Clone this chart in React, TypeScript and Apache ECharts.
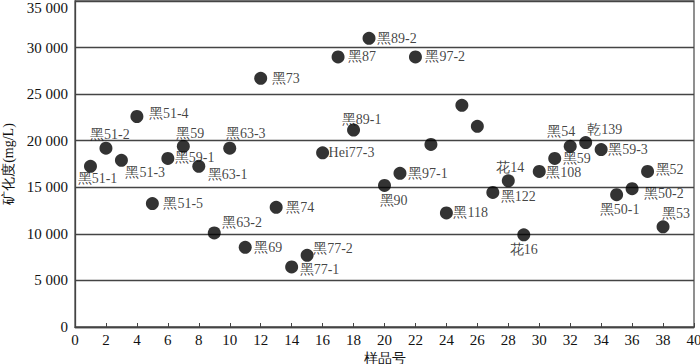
import React, { useEffect, useRef } from "react";
import * as echarts from "echarts";

const sampleNo = [1,2,3,4,5,6,7,8,9,10,11,12,13,14,15,16,17,18,19,20,21,22,23,24,25,26,27,28,29,30,31,32,33,34,35,36,37,38];
const mineralization = [17250,19200,17900,22600,13250,18100,19400,17250,10100,19200,8550,26700,12850,6450,7700,18700,29000,21150,31000,15200,16500,29000,19600,12250,23800,21550,14450,15700,9900,16700,18100,19400,19800,19050,14200,14850,16700,10750];
const sampleNames = ["黑51-1","黑51-2","黑51-3","黑51-4","黑51-5","黑59-1","黑59","黑63-1","黑63-2","黑63-3","黑69","黑73","黑74","黑77-1","黑77-2","Hei77-3","黑87","黑89-1","黑89-2","黑90","黑97-1","黑97-2","","黑118","","","黑122","花14","花16","黑108","黑59","黑54","乾139","黑59-3","黑50-1","黑50-2","黑52","黑53"];
const yTicks = [0,5000,10000,15000,20000,25000,30000,35000];

// label placement per point index: [align, dx, dy] relative to point centre
// align "left": dx is the text's left edge; align "center": dx is the text's centre
const placement: Record<number, [string, number, number]> = {
  0: ["center", 7, 12], 1: ["center", 4, -14], 2: ["left", 4, 12], 3: ["left", 12, -3],
  4: ["left", 11, 0], 5: ["left", 7, -1], 6: ["center", 7, -13], 7: ["left", 9, 8],
  8: ["left", 8, -10], 9: ["center", 16, -15], 10: ["left", 9, 0], 11: ["left", 11, 0],
  12: ["left", 10, 0], 13: ["left", 8, 3], 14: ["left", 6, -7], 15: ["left", 6, 0],
  16: ["left", 10, 0], 17: ["center", 8, -11], 18: ["left", 8, 0], 19: ["center", 9, 15],
  20: ["left", 8, 0], 21: ["left", 10, 0], 23: ["left", 7, 0], 26: ["left", 8, 4],
  27: ["center", 2, -13], 28: ["center", 0, 15], 29: ["left", 7, 1], 30: ["left", 8, 0],
  31: ["center", -9, -15], 32: ["center", 19, -13], 33: ["left", 7, 0], 34: ["center", 3, 15],
  35: ["left", 12, 5], 36: ["left", 8, -2], 37: ["center", 13, -13],
};

const FONT = "Liberation Serif";
const SYMBOL = 13;

export default function App() {
  const ref = useRef<HTMLDivElement>(null);
  useEffect(() => {
    document.body.style.margin = "0";
    if (!ref.current) return;
    const chart = echarts.init(ref.current, undefined, { renderer: "svg" });
    const half = SYMBOL / 2;
    const data = sampleNo.map((x, i) => {
      const p = placement[i];
      return {
        value: [x, mineralization[i]],
        name: sampleNames[i],
        label: p
          ? {
              show: true,
              position: [half + p[1], half + p[2]],
              align: p[0],
              verticalAlign: "middle",
            }
          : { show: false },
      };
    });
    chart.setOption({
      animation: false,
      textStyle: { fontFamily: FONT },
      grid: {
        left: 75, right: 6, top: 1, bottom: 37,
        containLabel: false,
        outerBoundsMode: "none",
        show: true, borderColor: "#555", borderWidth: 1.3,
      },
      xAxis: {
        type: "value", min: 0, max: 40, interval: 2,
        name: "样品号", nameLocation: "middle", nameGap: 18,
        nameTextStyle: { fontSize: 14, color: "#111", fontFamily: FONT },
        axisLine: { show: true, lineStyle: { color: "#444", width: 1.3 } },
        axisTick: { show: true, inside: true, length: 4, lineStyle: { color: "#444" } },
        axisLabel: { fontSize: 15, color: "#111", margin: 5, fontFamily: FONT },
        splitLine: { show: false },
      },
      yAxis: {
        type: "value", min: yTicks[0], max: yTicks[yTicks.length - 1], interval: 5000,
        name: "矿化度(mg/L)", nameLocation: "middle", nameGap: 57, nameRotate: 90,
        nameTextStyle: { fontSize: 14, color: "#111", fontFamily: FONT },
        axisLine: { show: true, lineStyle: { color: "#444", width: 1.3 } },
        axisTick: { show: false },
        axisLabel: {
          fontSize: 15, color: "#111", margin: 7, fontFamily: FONT,
          formatter: (v: number) => {
            const s = String(Math.round(v));
            const t = s.length > 3 ? s.slice(0, s.length - 3) + " " + s.slice(-3) : s;
            return v === yTicks[yTicks.length - 1] ? "{top|" + t + "}" : t;
          },
          rich: {
            top: { fontSize: 15, color: "#111", fontFamily: FONT, padding: [13, 0, 0, 0] },
          },
        },
        splitLine: { show: true, lineStyle: { color: "#444", width: 1.3 } },
      },
      series: [
        {
          type: "scatter",
          symbol: "circle",
          symbolSize: SYMBOL,
          itemStyle: { color: "#000" },
          label: {
            show: true,
            formatter: "{b}",
            fontSize: 14,
            color: "#111",
            fontFamily: FONT,
          },
          labelLayout: { hideOverlap: false },
          data,
        },
      ],
    });
    return () => chart.dispose();
  }, []);
  return <div ref={ref} style={{ width: 700, height: 364 }} />;
}
